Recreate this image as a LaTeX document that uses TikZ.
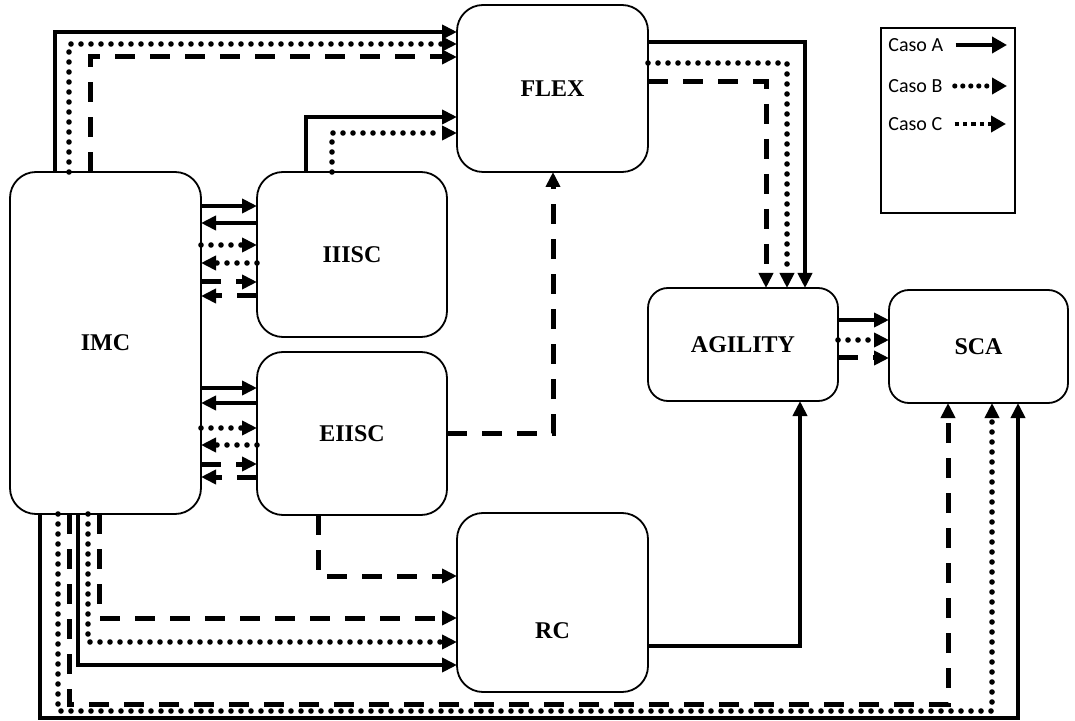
\documentclass[tikz,border=0pt]{standalone}
\usepackage{fontspec}
\setmainfont{Liberation Serif}
\newfontfamily\legendfont{Carlito}
\usepackage{tikz}
\usetikzlibrary{positioning,arrows.meta}

\tikzset{
  boxfont/.style={font=\bfseries\fontsize{12}{14}\selectfont},
  box/.style={draw,line width=0.9pt,rounded corners=13pt,inner sep=0pt,outer sep=0pt,boxfont},
  casoA/.style={line width=2pt,-{Triangle[length=7.5pt,width=7pt]}},
  casoB/.style={line width=2.8pt,line cap=round,dash pattern=on 0pt off 5pt,-{Triangle[length=7.5pt,width=7pt]}},
  casoC/.style={line width=2.5pt,dash pattern=on 10pt off 7.5pt,-{Triangle[length=7.5pt,width=7pt]}},
  legtext/.style={font=\legendfont\fontsize{10}{12}\selectfont,inner sep=0pt,anchor=west},
  legA/.style={line width=2pt,-{Triangle[length=7.5pt,width=8pt]}},
  legB/.style={line width=2.6pt,line cap=round,dash pattern=on 0pt off 4pt,-{Triangle[length=7.5pt,width=8pt]}},
  legC/.style={line width=2.2pt,dash pattern=on 2.2pt off 2pt,-{Triangle[length=7.5pt,width=8pt]}},
}

\begin{document}
\begin{tikzpicture}[x=0.5pt,y=-0.5pt]
\useasboundingbox (0,0) rectangle (1075,721);
% boxes
\node[box,minimum width=95.5pt,minimum height=171pt] (imc) at (105.5,343) {IMC};
\node[box,minimum width=95pt,minimum height=82.5pt] (iiisc) at (352,254.5) {IIISC};
\node[box,minimum width=95pt,minimum height=81.5pt] (eiisc) at (352,433.5) {EIISC};
\node[box,minimum width=95.5pt,minimum height=83.5pt] (flex) at (552.5,88.5) {FLEX};
\node[box,rounded corners=10pt,minimum width=95pt,minimum height=56.5pt] (agil) at (743,344.5) {AGILITY};
\node[box,rounded corners=10pt,minimum width=89.5pt,minimum height=56.5pt] (sca) at (978.5,346.5) {SCA};
\node[box,minimum width=95.5pt,minimum height=89.5pt,label={[boxfont,yshift=-14pt]center:RC}] (rc) at (552.5,602.5) {};

% legend
\node[draw,line width=0.8pt,inner sep=0pt,minimum width=67pt,minimum height=92.5pt] (legend) at (948,120.5) {};
\node[legtext] (la) at (888,45) {Caso A};
\node[legtext] (lb) at (888,86) {Caso B};
\node[legtext] (lc) at (888,124) {Caso C};
\coordinate (ea) at (1007,45);
\coordinate (eb) at (1007,86);
\coordinate (ec) at (1006,124);
\draw[legA] ([xshift=6pt]la.east) -- (ea);
\draw[legB] ([xshift=6pt]lb.east) -- (eb);
\draw[legC] ([xshift=6pt]lc.east) -- (ec);

% IMC -> FLEX
\draw[casoA] (imc.north -| 55,0) |- (flex.west |- 0,32);
\draw[casoB] (imc.north -| 69,0) |- (flex.west |- 0,44);
\draw[casoC] (imc.north -| 90,0) |- (flex.west |- 0,57);
% IIISC -> FLEX
\draw[casoA] (iiisc.north -| 306,0) |- (flex.west |- 0,117);
\draw[casoB] (iiisc.north -| 332,0) |- (flex.west |- 0,133);
% FLEX -> AGILITY
\draw[casoA] (flex.east |- 0,42) -| (agil.north -| 805,0);
\draw[casoB] (flex.east |- 0,63) -| (agil.north -| 787,0);
\draw[casoC] (flex.east |- 0,82) -| (agil.north -| 766,0);

% IMC <-> IIISC
\draw[casoA] (imc.east |- 0,206) -- (iiisc.west |- 0,206);
\draw[casoA] (iiisc.west |- 0,223) -- (imc.east |- 0,223);
\draw[casoB] (imc.east |- 0,245) -- (iiisc.west |- 0,245);
\draw[casoB] (iiisc.west |- 0,263) -- (imc.east |- 0,263);
\draw[casoC] (imc.east |- 0,282) -- (iiisc.west |- 0,282);
\draw[casoC] (iiisc.west |- 0,296) -- (imc.east |- 0,296);
% IMC <-> EIISC
\draw[casoA] (imc.east |- 0,388) -- (eiisc.west |- 0,388);
\draw[casoA] (eiisc.west |- 0,403) -- (imc.east |- 0,403);
\draw[casoB] (imc.east |- 0,428) -- (eiisc.west |- 0,428);
\draw[casoB] (eiisc.west |- 0,445) -- (imc.east |- 0,445);
\draw[casoC] (imc.east |- 0,464) -- (eiisc.west |- 0,464);
\draw[casoC] (eiisc.west |- 0,477) -- (imc.east |- 0,477);

% EIISC -> FLEX, RC
\draw[casoC] (eiisc.east |- 0,433) -| (flex.south -| 553,0);
\draw[casoC] (eiisc.south -| 318,0) |- (rc.west |- 0,576);
% IMC -> RC
\draw[casoC] (imc.south -| 99,0) |- (rc.west |- 0,618);
\draw[casoB] (imc.south -| 88,0) |- (rc.west |- 0,642);
\draw[casoA] (imc.south -| 78,0) |- (rc.west |- 0,665);
% IMC -> SCA
\draw[casoC] (imc.south -| 69,0) -- (69,704) -| (sca.south -| 948,0);
\draw[casoB] (imc.south -| 58,0) -- (58,711) -| (sca.south -| 992,0);
\draw[casoA] (imc.south -| 40,0) -- (40,718) -| (sca.south -| 1018,0);
% RC -> AGILITY
\draw[casoA] (rc.east |- 0,646) -| (agil.south -| 800,0);
% AGILITY -> SCA
\draw[casoA] (agil.east |- 0,320) -- (sca.west |- 0,320);
\draw[casoB] (agil.east |- 0,340) -- (sca.west |- 0,340);
\draw[casoC] (agil.east |- 0,358) -- (sca.west |- 0,358);
\end{tikzpicture}
\end{document}
